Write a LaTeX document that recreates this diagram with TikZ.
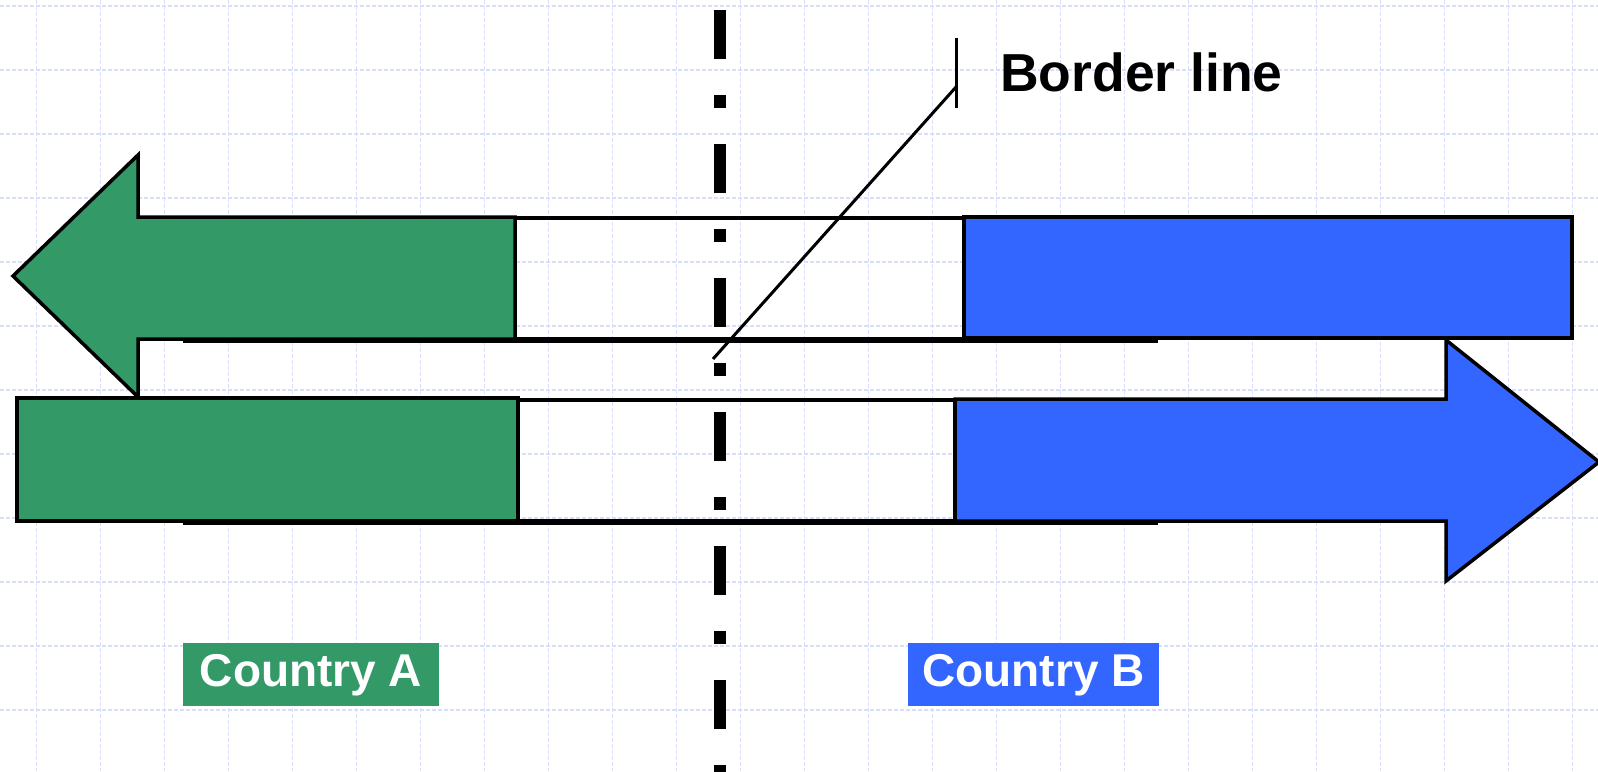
\documentclass[tikz,border=0pt]{standalone}
\usepackage{fontspec}
\setmainfont{Liberation Sans}
\definecolor{cgreen}{RGB}{51,153,102}
\definecolor{cblue}{RGB}{51,102,255}
\definecolor{cgrid}{RGB}{216,223,250}
\begin{document}
\begin{tikzpicture}[x=1pt,y=-1pt,
  gridline/.style={cgrid, line width=1.2pt, dash pattern=on 3.5pt off 2.5pt},
  outline/.style={draw=black, line width=3.5pt, line join=miter},
  roadline/.style={black, line width=3.5pt},
  borderdash/.style={black, line width=12pt, dash pattern=on 48.5pt off 36.5pt on 12.7pt off 36.3pt},
  leader/.style={black, line width=3pt},
  countrybox/.style={text=white, font=\bfseries\fontsize{46}{50}\selectfont, inner xsep=0pt, inner ysep=0pt, text height=43.7pt, text depth=19.3pt, align=center},
]
\fill[white] (0,0) rectangle (1598,771);
\useasboundingbox (0,0) rectangle (1598,771);
% background grid
\foreach \i in {0,...,24} \draw[gridline] ({36.5+64*\i},0) -- ({36.5+64*\i},771);
\foreach \j in {0,...,12} \draw[gridline] (0,{6+64*\j}) -- (1598,{6+64*\j});
% road edges
\coordinate (r1a) at (183,341); \coordinate (r1b) at (1158,341);
\coordinate (r2a) at (183,523); \coordinate (r2b) at (1158,523);
\draw[roadline] (r1a) -- (r1b);
\draw[roadline] (r2a) -- (r2b);
% empty lanes across the border
\draw[outline] (515,218) rectangle (964,339);
\draw[outline] (518,400) rectangle (955,521);
% top row
\draw[outline, fill=cgreen] (13,276) -- (138,155) -- (138,217) -- (515,217) -- (515,339) -- (138,339) -- (138,397) -- cycle;
\draw[outline, fill=cblue] (964,217) rectangle (1572,338);
% bottom row
\draw[outline, fill=cgreen] (17,398) rectangle (518,521);
\draw[outline, fill=cblue] (955,399) -- (1446,399) -- (1446,340) -- (1599,462) -- (1446,581) -- (1446,521) -- (955,521) -- cycle;
% border line
\coordinate (bt) at (720,10); \coordinate (bb) at (720,800);
\draw[borderdash] (bt) -- (bb);
% label and leader
\node[anchor=base west, inner sep=0pt, font=\bfseries\fontsize{53.5}{58}\selectfont] (bl) at (1000,91.7) {Border line};
\coordinate (tickTop) at (956,38); \coordinate (tickBot) at (956,108);
\coordinate (knee) at (956,87); \coordinate (pt) at (713,359);
\draw[leader] (tickTop) -- (tickBot);
\draw[leader] (knee) -- (pt);
% country labels
\node[countrybox, fill=cgreen, minimum width=256pt] (ca) at (311,674.5) {Country A};
\node[countrybox, fill=cblue, minimum width=251pt] (cb) at (1033.5,674.5) {Country B};
\end{tikzpicture}
\end{document}
